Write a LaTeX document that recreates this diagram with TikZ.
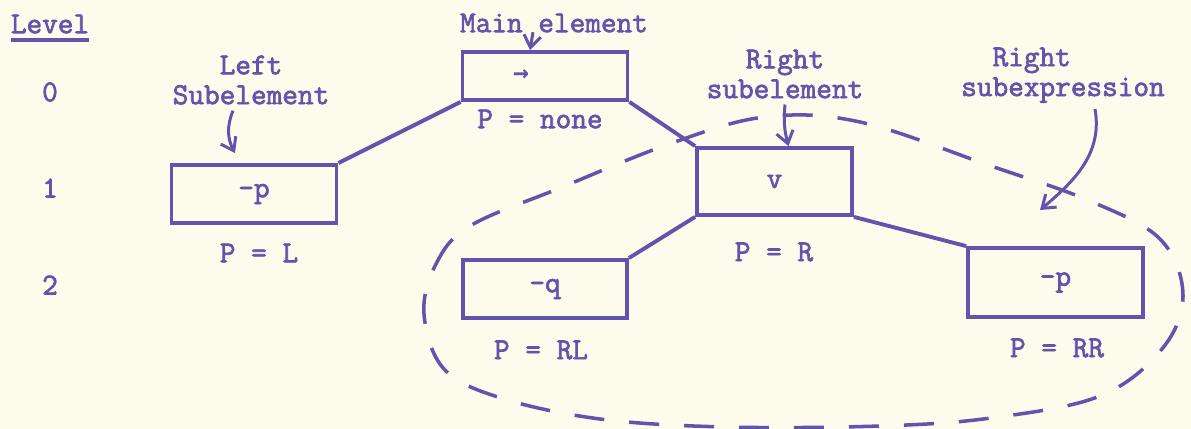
\documentclass[tikz,border=0pt]{standalone}
\usepackage{fontspec}
\newfontfamily\typer{Latin Modern Mono}[AutoFakeBold=2.2]
\newfontfamily\arrowfont{DejaVu Sans Mono}
\usepackage{tikz}
\usetikzlibrary{arrows.meta, calc}
\definecolor{tinta}{RGB}{98, 84, 172}
\definecolor{papel}{RGB}{253, 252, 236}

\begin{document}
\begin{tikzpicture}[x=0.02cm, y=0.02cm,
      every node/.style={font=\fontsize{17.3}{17}\selectfont\typer\bfseries, text=tinta},
      bx/.style={draw=tinta, line width=2.2pt, minimum width=3.3cm, minimum height=1.16cm, inner sep=0pt},
      ln/.style={draw=tinta, line width=2.2pt},
      arr/.style={draw=tinta, line width=1.7pt, -{Straight Barb[length=2.4mm,width=3.4mm]}}]
      \fill[papel] (0,0) rectangle (1191,429);
      \useasboundingbox (0,0) rectangle (1191,429);
      % Level column
      \node[inner sep=0pt] (level) at (50,405) {Level};
      \draw[ln, line width=2pt] ($(level.base west)+(0,-7)$) -- ($(level.base east)+(0,-7)$);
      \node (lv0) at (50,337) {0};
      \node (lv1) at (50,241) {1};
      \node (lv2) at (50,144) {2};
      % Level 0
      \node[bx, minimum height=0.96cm] (main) at (545,353) {\makebox[0pt]{\hspace*{-0.96cm}\arrowfont\bfseries\fontsize{15}{15}\selectfont →}};
      \node (pmain) at (540,310) {P = none};
      \node (mainel) at (554,406) {Main element};
      % Level 1
      \node[bx] (lbox) at (254,235) {-p};
      \node (plbox) at (259,176) {P = L};
      \node[align=center] (lsubel) at (251,349) {Left\\Subelement};
      \node[bx, minimum width=3.1cm, minimum height=1.34cm] (vbox) at (774.5,247.5) {\raisebox{-0.12cm}{v}};
      \node (pvbox) at (774,177) {P = R};
      \node[align=center] (rsubel) at (785,355) {Right\\subelement};
      % Level 2
      \node[bx, minimum width=3.28cm] (qbox) at (545,140) {-q};
      \node (pqbox) at (541,79) {P = RL};
      \node[bx, minimum width=3.5cm, minimum height=1.38cm] (rbox) at (1055.5,146.5) {-p};
      \node (prbox) at (1057,81) {P = RR};
      \node[align=center] (rsubex) at (1063,354) {Right\phantom{0000}\\subexpression};
      \coordinate (rsubtip) at (1040,219);
      % tree lines
      \draw[ln] (lbox.north east) -- (main.south west);
      \draw[ln] (main.south east) -- (vbox.north west);
      \draw[ln] (qbox.north east) -- (vbox.south west);
      \draw[ln] (vbox.south east) -- (rbox.north west);
      % pointers
      \draw[arr] ([xshift=-0.42cm]mainel.base) -- ([xshift=-0.3cm]main.north);
      \draw[arr] ([xshift=-0.36cm]lsubel.south) to[bend right=25] ([xshift=-0.38cm,yshift=0.2cm]lbox.north);
      \draw[arr] (rsubel.south) to[bend right=10] ([xshift=0.28cm]vbox.north);
      \draw[arr] ([xshift=0.64cm]rsubex.south) to[out=-80, in=40] (rsubtip);
      % right subexpression
      \draw[tinta, line width=2pt, dash pattern=on 0.6cm off 0.5cm]
        plot[smooth cycle, tension=0.6] coordinates {(424,115) (436,165) (470,203) (560,241) (672,286)
        (765,312) (860,307) (991,263) (1090,228) (1160,190) (1183,134) (1162,80) (1100,33)
        (991,11) (880,3) (726,2) (600,10) (501,31) (444,60)};
    \end{tikzpicture}
\end{document}
